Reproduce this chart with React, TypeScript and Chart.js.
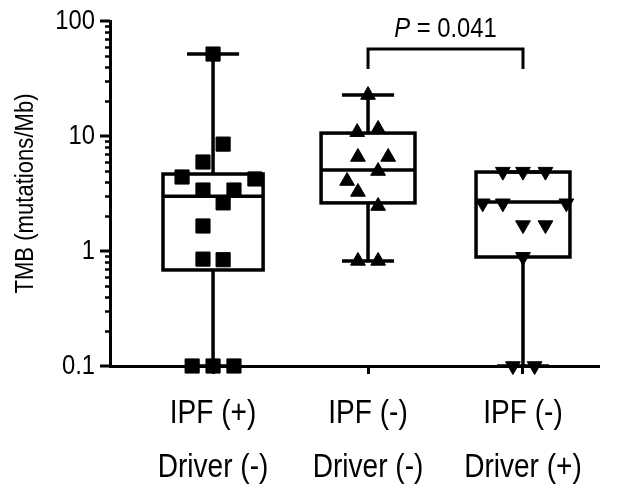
import React, { useEffect, useRef } from "react";
import { Chart, registerables } from "chart.js";

Chart.register(...registerables);

// ---------- data ----------
const categories: string[][] = [
  ["IPF (+)", "Driver (-)"],
  ["IPF (-)", "Driver (-)"],
  ["IPF (-)", "Driver (+)"],
];
const yTickValues = [0.1, 1, 10, 100];
const yTickLabels = ["0.1", "1", "10", "100"];
const yTitle = "TMB (mutations/Mb)";

const boxMin = [0.1, 0.82, 0.1];
const boxQ1 = [0.684, 2.62, 0.887];
const boxMedian = [3.0, 5.06, 2.67];
const boxQ3 = [4.67, 10.6, 4.86];
const boxMax = [51.6, 22.7, 4.86];

const group1Values = [51.6, 8.5, 5.94, 4.4, 4.23, 3.39, 3.39, 2.62, 1.65, 0.85, 0.84, 0.1, 0.1, 0.1];
const group1X = [0, 0.065, -0.065, -0.2, 0.27, -0.065, 0.135, 0.065, -0.065, -0.065, 0.065, -0.135, 0, 0.135];
const group2Values = [22.7, 10.8, 11.5, 6.57, 6.57, 4.96, 4.06, 3.26, 2.46, 0.82, 0.82];
const group2X = [0, -0.07, 0.065, -0.065, 0.13, 0.065, -0.135, -0.065, 0.065, -0.065, 0.065];
const group3Values = [4.9, 4.9, 4.9, 2.6, 2.6, 2.6, 1.68, 1.68, 0.89, 0.1, 0.1];
const group3X = [-0.13, 0, 0.145, -0.26, -0.13, 0.28, 0, 0.145, 0, -0.065, 0.075];

const comparedGroups = [1, 2];
const pValueText = "0.041";

// ---------- styles ----------
const FONT = "'Liberation Sans', Arial, Helvetica, sans-serif";
const BLACK = "#000";
const SX = 0.85; // horizontal glyph compression of the original figure
const boxHalf = [0.323, 0.303, 0.303];
const capHalf = 0.168;

const toPoints = (vals: number[], offs: number[], center: number) =>
  vals.map((v, i) => ({ x: center + offs[i], y: v }));

function drawText(
  ctx: CanvasRenderingContext2D,
  text: string,
  x: number,
  y: number,
  size: number,
  align: CanvasTextAlign,
  baseline: CanvasTextBaseline,
  rotate = 0,
  italic = false
) {
  ctx.save();
  ctx.translate(x, y);
  if (rotate) ctx.rotate(rotate);
  ctx.scale(SX, 1);
  ctx.font = `${italic ? "italic " : ""}${size}px ${FONT}`;
  ctx.textAlign = align;
  ctx.textBaseline = baseline;
  ctx.fillStyle = BLACK;
  ctx.fillText(text, 0, 0);
  ctx.restore();
}

const boxPlugin = {
  id: "boxPlot",
  beforeDatasetsDraw(chart: any) {
    const { ctx, scales, chartArea } = chart;
    const x = scales.x;
    const y = scales.y;
    ctx.save();
    ctx.strokeStyle = BLACK;
    ctx.lineCap = "butt";

    // y-axis ticks (major + minor)
    const axisX = chartArea.left;
    ctx.lineWidth = 2.5;
    ctx.beginPath();
    for (let d = 0; d < yTickValues.length - 1; d++) {
      for (let m = 2; m <= 9; m++) {
        const py = Math.round(y.getPixelForValue(yTickValues[d] * m)) + 0.5;
        ctx.moveTo(axisX - 5, py);
        ctx.lineTo(axisX, py);
      }
    }
    ctx.stroke();
    ctx.lineWidth = 3;
    ctx.beginPath();
    for (const v of yTickValues) {
      const py = y.getPixelForValue(v);
      ctx.moveTo(axisX - 10, py);
      ctx.lineTo(axisX, py);
    }
    ctx.stroke();

    // boxes and whiskers
    ctx.lineWidth = 3.5;
    for (let i = 0; i < categories.length; i++) {
      const cx = x.getPixelForValue(i);
      const left = x.getPixelForValue(i - boxHalf[i]);
      const right = x.getPixelForValue(i + boxHalf[i]);
      const cl = x.getPixelForValue(i - capHalf);
      const cr = x.getPixelForValue(i + capHalf);
      const yMin = y.getPixelForValue(boxMin[i]);
      const yQ1 = y.getPixelForValue(boxQ1[i]);
      const yMed = y.getPixelForValue(boxMedian[i]);
      const yQ3 = y.getPixelForValue(boxQ3[i]);
      const yMax = y.getPixelForValue(boxMax[i]);
      ctx.beginPath();
      ctx.moveTo(cx, yQ3);
      ctx.lineTo(cx, yMax);
      ctx.moveTo(cx, yQ1);
      ctx.lineTo(cx, yMin);
      ctx.moveTo(cl, yMax);
      ctx.lineTo(cr, yMax);
      ctx.moveTo(cl, yMin);
      ctx.lineTo(cr, yMin);
      ctx.moveTo(left, yMed);
      ctx.lineTo(right, yMed);
      ctx.stroke();
      ctx.strokeRect(left, yQ3, right - left, yQ1 - yQ3);
    }
    ctx.restore();
  },
  afterDraw(chart: any) {
    const { ctx, scales, chartArea } = chart;
    const x = scales.x;
    const y = scales.y;
    ctx.save();

    // y tick labels
    yTickValues.forEach((v, i) => {
      drawText(ctx, yTickLabels[i], chartArea.left - 15, y.getPixelForValue(v), 28, "right", "middle");
    });

    // category labels (two lines)
    categories.forEach((lines, i) => {
      const px = x.getPixelForValue(i);
      lines.forEach((line, j) => {
        drawText(ctx, line, px, chartArea.bottom + 48 + j * 54, 33, "center", "middle");
      });
    });

    // y title
    drawText(ctx, yTitle, 26, (chartArea.top + chartArea.bottom) / 2, 26, "center", "middle", -Math.PI / 2);

    // significance bracket
    const x1 = x.getPixelForValue(comparedGroups[0]);
    const x2 = x.getPixelForValue(comparedGroups[1]);
    const top = chartArea.top + 28;
    const bottom = chartArea.top + 48;
    ctx.strokeStyle = BLACK;
    ctx.lineWidth = 3;
    ctx.lineJoin = "miter";
    ctx.beginPath();
    ctx.moveTo(x1, bottom);
    ctx.lineTo(x1, top);
    ctx.lineTo(x2, top);
    ctx.lineTo(x2, bottom);
    ctx.stroke();

    const pSize = 28;
    ctx.font = `italic ${pSize}px ${FONT}`;
    const wP = ctx.measureText("P").width * SX;
    const rest = " = " + pValueText;
    ctx.font = `${pSize}px ${FONT}`;
    const wR = ctx.measureText(rest).width * SX;
    const startX = (x1 + x2) / 2 - (wP + wR) / 2;
    const baseY = chartArea.top + 16;
    drawText(ctx, "P", startX, baseY, pSize, "left", "alphabetic", 0, true);
    drawText(ctx, rest, startX + wP, baseY, pSize, "left", "alphabetic");
    ctx.restore();
  },
};

export default function App() {
  const ref = useRef<HTMLCanvasElement | null>(null);

  useEffect(() => {
    if (!ref.current) return;
    const common = {
      backgroundColor: BLACK,
      borderColor: BLACK,
      borderWidth: 1,
      showLine: false,
      clip: false as any,
    };
    const chart = new Chart(ref.current, {
      type: "scatter",
      data: {
        datasets: [
          { ...common, data: toPoints(group1Values, group1X, 0), pointStyle: "rect", pointRadius: 10 },
          { ...common, data: toPoints(group2Values, group2X, 1), pointStyle: "triangle", pointRadius: 8.5 },
          { ...common, data: toPoints(group3Values, group3X, 2), pointStyle: "triangle", pointRotation: 180, pointRadius: 8.5 },
        ] as any,
      },
      options: {
        responsive: false,
        animation: false,
        events: [],
        layout: { padding: { top: 21, right: 23, left: 0, bottom: 0 } },
        plugins: { legend: { display: false }, tooltip: { enabled: false } },
        scales: {
          x: {
            type: "linear",
            min: -0.665,
            max: 2.484,
            afterBuildTicks: (s: any) => {
              s.ticks = categories.map((_, i) => ({ value: i }));
            },
            afterFit: (s: any) => {
              s.height = 126;
            },
            ticks: { display: false, padding: 0 },
            grid: {
              display: true,
              drawOnChartArea: false,
              drawTicks: true,
              tickLength: 8,
              lineWidth: 3,
              color: BLACK,
            },
            border: { display: true, width: 3, color: BLACK },
          },
          y: {
            type: "logarithmic",
            min: 0.1,
            max: 100,
            afterBuildTicks: (s: any) => {
              s.ticks = yTickValues.map((v) => ({ value: v, major: true }));
            },
            afterFit: (s: any) => {
              s.width = 110;
            },
            ticks: { display: false, padding: 0 },
            grid: { display: false, drawTicks: false },
            border: { display: true, width: 3, color: BLACK },
          },
        },
      } as any,
      plugins: [boxPlugin],
    });
    return () => chart.destroy();
  }, []);

  return (
    <div style={{ position: "absolute", left: 0, top: 0, width: 621, height: 492, background: "#fff" }}>
      <canvas ref={ref} width={621} height={492} style={{ display: "block" }} />
    </div>
  );
}
